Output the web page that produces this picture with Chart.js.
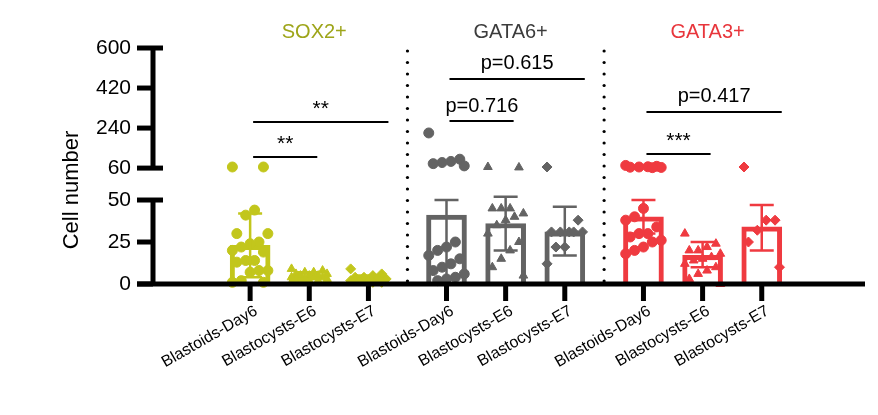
<!DOCTYPE html>
<html><head><meta charset="utf-8">
<script src="https://cdn.jsdelivr.net/npm/chart.js@4/dist/chart.umd.min.js"></script>
<style>html,body{margin:0;padding:0;background:#fff}#w{width:878px;height:415px}</style>
</head><body><div id="w"><canvas id="c"></canvas></div>
<script>
const categories = ['Blastoids-Day6','Blastocysts-E6','Blastocysts-E7','Blastoids-Day6','Blastocysts-E6','Blastocysts-E7','Blastoids-Day6','Blastocysts-E6','Blastocysts-E7'];
const xPositions = [0,1,2,3.32,4.32,5.32,6.65,7.65,8.65];
const groupTitles = ['SOX2+','GATA6+','GATA3+'];
const means = [23,5,3,41,36,31,40,17,34];
const errHigh = [42,7,5,50,52,46,50,25,47];
const errLow = [4,3,1,0,20,17,30,10,20];
const sox2Day6 = [65,65,44,41,30,30,25,24,22,20,19,14,14,13,8,8,7,2,1,1];
const sox2E6 = [9,8,7,7,6,6,5,5,5,4,4,4,3,3,3,2,2,1,1];
const sox2E7 = [9,6,5,4,4,3,3,2,2,2,1,1];
const gata6Day6 = [218,100,90,85,80,70,25,22,20,17,15,12,10,8,6,4,3,2];
const gata6E6 = [65,63,45,45,45,42,40,38,35,30,25,20,15,10,5];
const gata6E7 = [65,38,31,31,31,31,31,22,22,12];
const gata3Day6 = [72,68,66,65,64,63,62,45,40,38,34,30,30,28,26,25,22,20,18];
const gata3E6 = [30,24,22,20,20,18,16,15,14,12,10,8,6,3,0];
const gata3E7 = [65,38,38,32,25,10];
const yTickValues = [0,25,50,60,240,420,600];
const sigLabels = ['**','**','p=0.716','p=0.615','***','p=0.417'];
const sigPairs = [[0,1],[0,2],[3,4],[3,5],[6,7],[6,8]];
const sigLevels = [75.6,96.4,97,122,77.4,102.4]; // axis units of the broken scale

const colors = ['#c2c61c','#c2c61c','#c2c61c','#636363','#636363','#636363','#ef3a40','#ef3a40','#ef3a40'];
const titleColors = ['#9ea51a','#3c3c3c','#e8363c'];
const styles = ['circle','triangle','rectRot','circle','triangle','rectRot','circle','triangle','rectRot'];
const groups = [sox2Day6,sox2E6,sox2E7,gata6Day6,gata6E6,gata6E7,gata3Day6,gata3E6,gata3E7];

function tv(v){ return v<=55 ? v : 69 + (v-60)*71.5/540; }

const datasets = [{
  type:'bar', data: xPositions.map((x,i)=>({x:x,y:means[i]})),
  backgroundColor:'#fff', borderColor:colors, borderWidth:5, barThickness:40, grouped:false, order:2
}];
groups.forEach((g,gi)=>{
  datasets.push({type:'scatter', order:1, clip:false,
    data: g.map((v,i)=>({x:xPositions[gi]+((i*7)%9-4)*0.075, y:tv(v)})),
    backgroundColor:colors[gi], borderColor:colors[gi], pointStyle:styles[gi], pointRadius:5, pointHoverRadius:5});
});

const FONT='"Liberation Sans", Arial';
const deco = {
  id:'deco',
  afterDatasetsDraw(chart){
    const ctx=chart.ctx, x=chart.scales.x, y=chart.scales.y;
    ctx.save();
    xPositions.forEach((p,i)=>{
      const px=x.getPixelForValue(p);
      ctx.strokeStyle=colors[i]; ctx.lineWidth=2.5;
      const yt=y.getPixelForValue(errHigh[i]), yb=y.getPixelForValue(errLow[i]);
      ctx.beginPath(); ctx.moveTo(px,yt); ctx.lineTo(px,yb);
      ctx.moveTo(px-12,yt); ctx.lineTo(px+12,yt); ctx.moveTo(px-12,yb); ctx.lineTo(px+12,yb); ctx.stroke();
    });
    ctx.strokeStyle='#000'; ctx.fillStyle='#000';
    const ax=153;
    ctx.lineWidth=5;
    ctx.beginPath();
    ctx.moveTo(ax,y.getPixelForValue(0)); ctx.lineTo(ax,y.getPixelForValue(50)+2);
    ctx.moveTo(ax,y.getPixelForValue(tv(60))); ctx.lineTo(ax,y.getPixelForValue(tv(600))-2);
    ctx.stroke();
    ctx.font='21px '+FONT; ctx.textAlign='right'; ctx.textBaseline='middle';
    yTickValues.forEach(v=>{
      const py=y.getPixelForValue(tv(v));
      ctx.beginPath(); ctx.moveTo(ax-16,py); ctx.lineTo(ax+(v===60||v===50||v===600?10:0),py); ctx.stroke();
      ctx.fillText(String(v),131,py);
    });
    ctx.save(); ctx.translate(72,190); ctx.rotate(-Math.PI/2); ctx.textAlign='center';
    ctx.font='22px '+FONT; ctx.fillText('Cell number',0,0); ctx.restore();
    const y0=y.getPixelForValue(0);
    ctx.beginPath(); ctx.moveTo(137,y0); ctx.lineTo(865,y0); ctx.stroke();
    ctx.font='16px '+FONT; ctx.textAlign='right'; ctx.textBaseline='middle';
    xPositions.forEach((p,i)=>{
      const px=x.getPixelForValue(p);
      ctx.beginPath(); ctx.moveTo(px,y0); ctx.lineTo(px,y0+17); ctx.stroke();
      ctx.save(); ctx.translate(px+6,y0+26); ctx.rotate(-Math.PI/6); ctx.fillText(categories[i],0,0); ctx.restore();
    });
    [(xPositions[2]+xPositions[3])/2,(xPositions[5]+xPositions[6])/2].forEach(p=>{
      const px=x.getPixelForValue(p);
      for(let yy=51; yy<282; yy+=11.5){ctx.beginPath(); ctx.arc(px,yy,1.6,0,Math.PI*2); ctx.fill();}
    });
    ctx.lineWidth=2; ctx.textAlign='center'; ctx.textBaseline='bottom';
    sigPairs.forEach((pr,i)=>{
      const x1=x.getPixelForValue(xPositions[pr[0]])+3, x2=x.getPixelForValue(xPositions[pr[1]])+ (pr[1]-pr[0]===1?8:20);
      const py=y.getPixelForValue(sigLevels[i]);
      ctx.beginPath(); ctx.moveTo(x1,py); ctx.lineTo(x2,py); ctx.stroke();
      const star = sigLabels[i].startsWith('*');
      ctx.font=(star?'21px ':'20px ')+FONT;
      if(star){ctx.fillText(sigLabels[i],(x1+x2)/2, py-2);}
      else if(pr[1]-pr[0]===1){ctx.textAlign='left'; ctx.fillText(sigLabels[i],x1-4,py-5); ctx.textAlign='center';}
      else ctx.fillText(sigLabels[i],(x1+x2)/2, py-6);
    });
    ctx.font='20px '+FONT;
    groupTitles.forEach((t,i)=>{
      const px=x.getPixelForValue(xPositions[i*3+1])+5;
      ctx.fillStyle=titleColors[i]; ctx.fillText(t,px,42);
    });
    ctx.restore();
  }
};

new Chart(document.getElementById('c'),{
  data:{datasets},
  options:{
    responsive:true, maintainAspectRatio:false, animation:false,
    layout:{padding:{top:48,right:13,left:137,bottom:131}},
    plugins:{legend:{display:false},tooltip:{enabled:false}},
    scales:{
      x:{type:'linear',display:false,min:-0.887,max:9.37},
      y:{type:'linear',display:false,min:0,max:140.5}
    }
  },
  plugins:[deco]
});
</script></body></html>
